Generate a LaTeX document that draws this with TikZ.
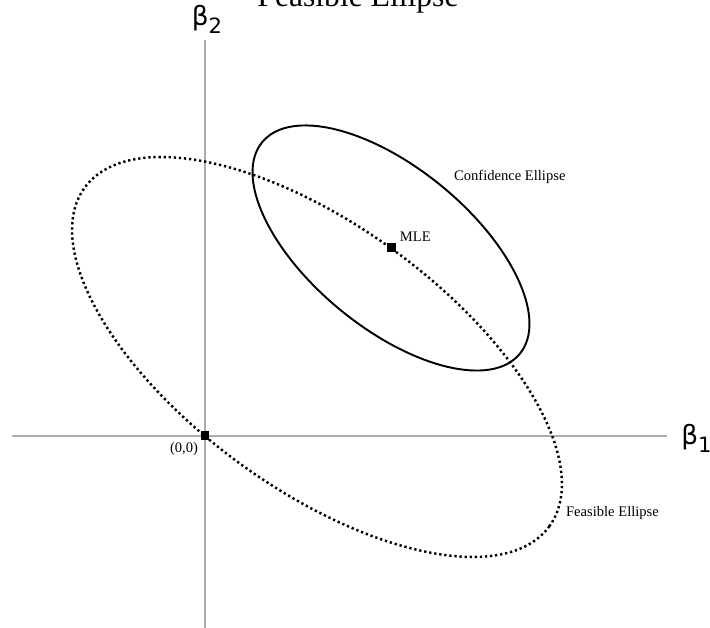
\documentclass[tikz,border=0pt]{standalone}
\usepackage{fontspec}
\setmainfont{Liberation Serif}
\newfontfamily\betafont{DejaVu Sans}
\usetikzlibrary{positioning}

\begin{document}
\begin{tikzpicture}[x=0.02cm, y=0.02cm,
    axis/.style={draw=black!32, line width=0.9pt},
    pointbox/.style={rectangle, fill=black, minimum size=0.18cm, inner sep=0pt},
    confline/.style={draw=black, line width=1.1pt},
    feasline/.style={draw=black, line width=1.4pt, dash pattern=on 1.3pt off 1.6pt},
    small/.style={font=\fontsize{8.3}{9}\selectfont, inner sep=1pt},
    beta/.style={font=\betafont\fontsize{15}{15}\selectfont, inner sep=0pt}]

    \useasboundingbox (-205,-192) rectangle (505,436);

    % axes
    \coordinate (xl) at (-193,0);
    \coordinate (xr) at (462,0);
    \coordinate (yt) at (0,396);
    \coordinate (yb) at (0,-192);
    \draw[axis] (xl) -- (xr);
    \draw[axis] (yb) -- (yt);

    \node[beta, anchor=west] (b1) at (476,-2) {β\raisebox{-0.3em}{\fontsize{12}{12}\selectfont 1}};
    \node[beta] (b2) at (2,417) {β\raisebox{-0.3em}{\fontsize{12}{12}\selectfont 2}};

    % title (cut by the page)
    \node[font=\fontsize{18}{18}\selectfont, anchor=base, inner sep=0pt] (title) at (153,429) {Feasible Ellipse};

    % ellipses
    \coordinate (fcen) at (112,79);
    \draw[feasline, rotate around={-36.1:(fcen)}] (fcen) ellipse [x radius=287.5, y radius=131.5];
    \draw[confline, rotate around={-39.4:(186,188)}] (186,188) ellipse [x radius=166.7, y radius=80];

    % points
    \node[pointbox] (origin) at (0,0) {};
    \node[pointbox] (mle) at (186,188) {};

    \node[small, anchor=north east] at ([shift={(0,1)}]origin.south west) {(0,0)};
    \node[small, anchor=south west] at ([shift={(2,0)}]mle.north east) {MLE};
    \node[small, anchor=west] (conflabel) at (247,259) {Confidence Ellipse};
    \node[small, anchor=west] (feaslabel) at (359,-77) {Feasible Ellipse};

\end{tikzpicture}
\end{document}
